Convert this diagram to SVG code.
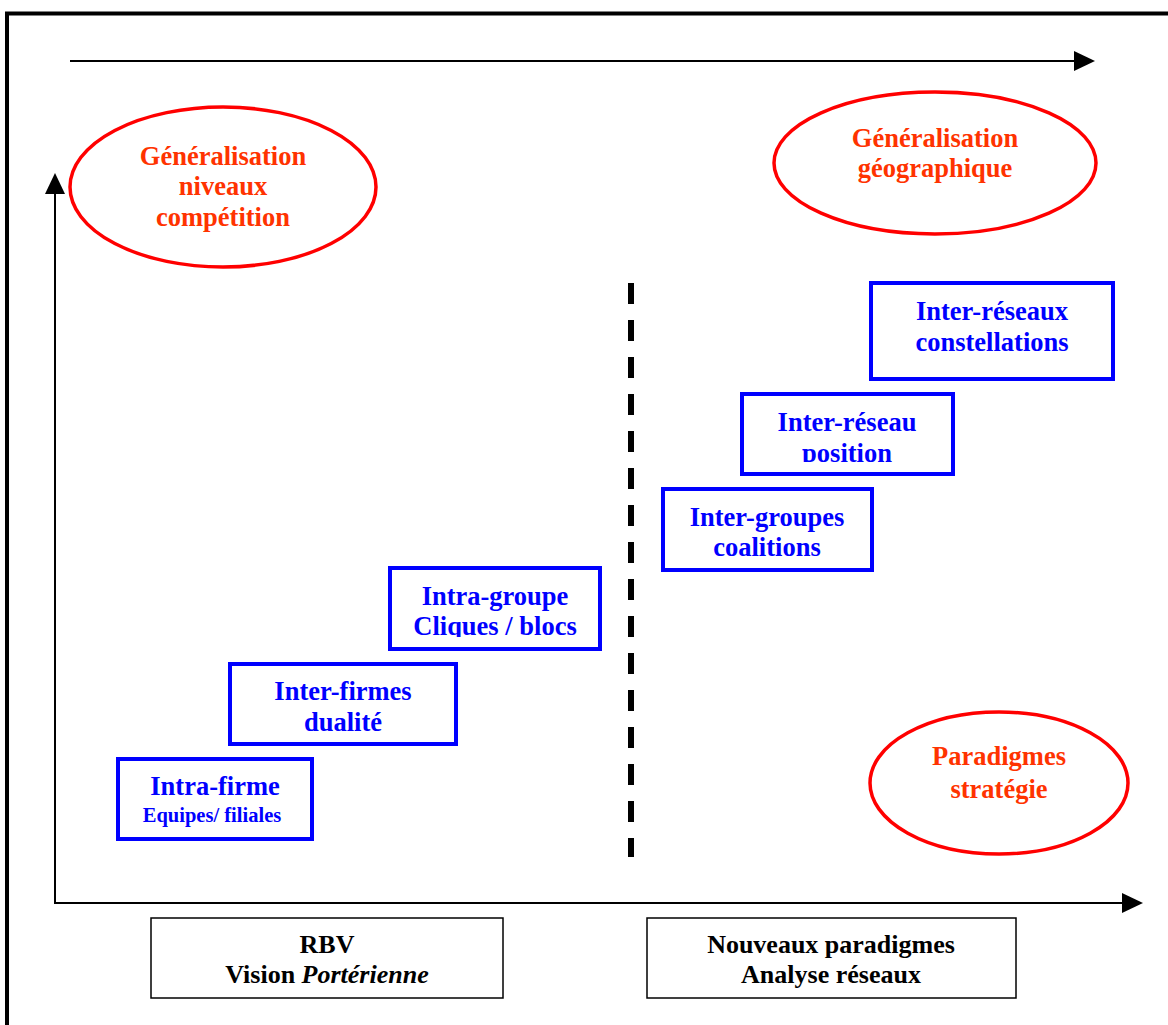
<svg xmlns="http://www.w3.org/2000/svg" width="1168" height="1025" viewBox="0 0 1168 1025">
<style>
.ell{fill:#fff;stroke:#ff0000;stroke-width:3.5}
.box{fill:#fff;stroke:#0000ff;stroke-width:4}
.bbox{fill:#fff;stroke:#000;stroke-width:1.5}
.rt{font-family:"Liberation Serif","Times New Roman",serif;font-weight:bold;font-size:26.5px;fill:#ff3300;text-anchor:middle}
.bt{font-family:"Liberation Serif","Times New Roman",serif;font-weight:bold;font-size:26.5px;fill:#0000ff;text-anchor:middle}
.bts{font-size:20.5px}
.kt{font-family:"Liberation Serif","Times New Roman",serif;font-weight:bold;font-size:26px;fill:#000;text-anchor:middle}
.ax{stroke:#000;stroke-width:2;fill:none}
</style>
<defs>
<marker id="ah" viewBox="0 0 21 20" refX="0" refY="10" markerWidth="21" markerHeight="20" markerUnits="userSpaceOnUse" orient="auto">
<path d="M0,0 L21,10 L0,20 Z" fill="#000"/>
</marker>
<clipPath id="c1"><rect x="742" y="394" width="211" height="68"/></clipPath>
<clipPath id="c2"><rect x="390" y="568" width="210" height="69"/></clipPath>
</defs>
<rect x="0" y="0" width="1168" height="1025" fill="#fff"/>
<rect x="7" y="13.5" width="1200" height="1100" fill="none" stroke="#000" stroke-width="4"/>
<g id="connectors">
<line class="ax" x1="70" y1="61" x2="1074" y2="61" marker-end="url(#ah)"/>
<line class="ax" x1="55" y1="903" x2="55" y2="194" marker-end="url(#ah)"/>
<line class="ax" x1="54" y1="903" x2="1122" y2="903" marker-end="url(#ah)"/>
<line x1="631" y1="283" x2="631" y2="857" stroke="#000" stroke-width="6" stroke-dasharray="21 16"/>
</g>
<g id="ell-niveaux">
<ellipse class="ell" cx="223" cy="187" rx="153" ry="80"/>
<text class="rt" x="223" y="165">Généralisation</text>
<text class="rt" x="223" y="195">niveaux</text>
<text class="rt" x="223" y="226">compétition</text>
</g>
<g id="ell-geo">
<ellipse class="ell" cx="935" cy="163" rx="161" ry="71"/>
<text class="rt" x="935" y="147">Généralisation</text>
<text class="rt" x="935" y="177">géographique</text>
</g>
<g id="ell-paradigmes">
<ellipse class="ell" cx="999" cy="783" rx="129" ry="71"/>
<text class="rt" x="999" y="765">Paradigmes</text>
<text class="rt" x="999" y="798">stratégie</text>
</g>
<g id="box-constellations">
<rect class="box" x="871" y="283" width="242" height="96"/>
<text class="bt" x="992" y="320">Inter-réseaux</text>
<text class="bt" x="992" y="351">constellations</text>
</g>
<g id="box-position">
<rect class="box" x="742" y="394" width="211" height="80"/>
<text class="bt" x="847" y="431">Inter-réseau</text>
<text class="bt" x="847" y="462" clip-path="url(#c1)">position</text>
</g>
<g id="box-coalitions">
<rect class="box" x="663" y="489" width="209" height="81"/>
<text class="bt" x="767" y="526">Inter-groupes</text>
<text class="bt" x="767" y="556">coalitions</text>
</g>
<g id="box-intragroupe">
<rect class="box" x="390" y="568" width="210" height="81"/>
<text class="bt" x="495" y="605">Intra-groupe</text>
<text class="bt" x="495" y="635" clip-path="url(#c2)">Cliques / blocs</text>
</g>
<g id="box-interfirmes">
<rect class="box" x="230" y="664" width="226" height="80"/>
<text class="bt" x="343" y="700">Inter-firmes</text>
<text class="bt" x="343" y="731">dualité</text>
</g>
<g id="box-intrafirme">
<rect class="box" x="118" y="759" width="194" height="80"/>
<text class="bt" x="215" y="795">Intra-firme</text>
<text class="bt bts" x="212" y="822">Equipes/ filiales</text>
</g>
<g id="box-rbv">
<rect class="bbox" x="151" y="918" width="352" height="80"/>
<text class="kt" x="327" y="953">RBV</text>
<text class="kt" x="327" y="983">Vision <tspan font-style="italic">Portérienne</tspan></text>
</g>
<g id="box-nouveaux">
<rect class="bbox" x="647" y="918" width="369" height="80"/>
<text class="kt" x="831" y="953">Nouveaux paradigmes</text>
<text class="kt" x="831" y="983">Analyse réseaux</text>
</g>
</svg>
